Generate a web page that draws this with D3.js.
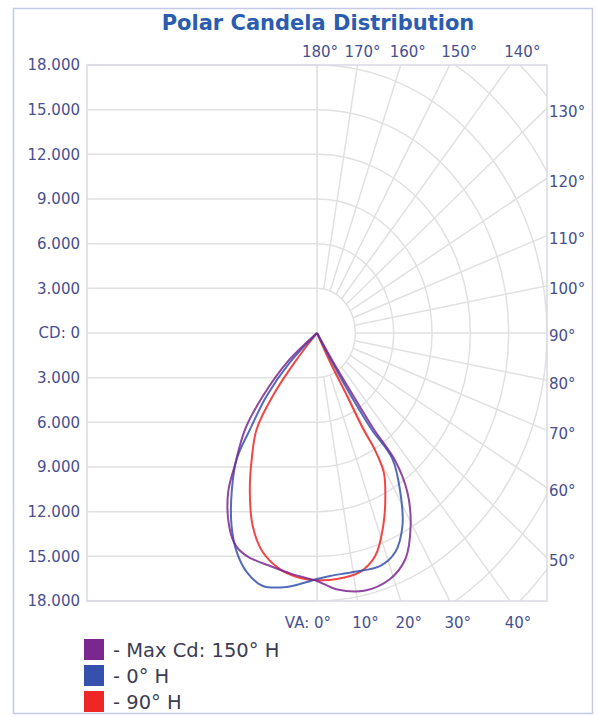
<!DOCTYPE html>
<html>
<head>
<meta charset="utf-8">
<script src="https://cdn.jsdelivr.net/npm/d3@7"></script>
<style>
  body { margin: 0; background: #fff; }
  text { font-family: "DejaVu Sans", Verdana, sans-serif; }
</style>
</head>
<body>
<svg id="chart" width="598" height="717"></svg>
<script>
// candela ticks (upper half is mirrored, labels show the absolute value)
const cdTicks = [18000, 15000, 12000, 9000, 6000, 3000, 0, -3000, -6000, -9000, -12000, -15000, -18000];
const ringValues = [3000, 6000, 9000, 12000, 15000, 18000, 21000, 24000, 27000];
const spokeAngles = d3.range(0, 190, 10);
const topAngles = [180, 170, 160, 150, 140];
const sideAngles = [130, 120, 110, 100, 90, 80, 70, 60, 50];
const bottomAngles = [0, 10, 20, 30, 40];

// traced curves: vertical angle from nadir (negative = left half) and candela
const maxCdAngles = [-50, -50, -45, -41, -36, -33, -28, -24, -20, -13, -7, 0, 5, 12, 19, 24.5, 29.5, 33.5, 35.5, 34.5, 34, 33, 33];
const maxCdValues = [0, 3060, 5990, 8580, 10910, 12770, 14660, 15630, 15960, 16080, 16300, 16660, 17270, 17700, 17490, 16680, 14880, 12810, 10560, 7800, 5100, 2300, 0];

const h0Angles = [-47, -47, -43, -39, -36.6, -32, -27.3, -23.1, -18.9, -14, -7.9, -2.7, 0, 3.6, 10, 17.6, 22.6, 27.3, 31.4, 34.9, 33.4, 32.3, 31.2, 31];
const h0Values = [0, 2880, 5780, 8330, 10540, 12600, 14580, 16000, 16970, 17510, 17220, 16740, 16520, 16350, 16300, 16410, 15940, 14580, 12510, 10310, 7720, 5000, 2280, 0];

const h90Angles = [-42, -41.6, -39.3, -36.2, -31.1, -26.2, -21.2, -16.1, -10.4, -5.5, 0, 5.4, 11.9, 16.9, 21.8, 26.6, 29.2, 30.0, 29.3, 29.1, 27.7, 27];
const h90Values = [0, 2600, 5470, 7990, 9890, 11910, 13910, 15310, 16120, 16460, 16600, 16600, 16400, 15660, 13960, 11940, 10700, 9000, 7390, 4840, 2200, 0];

const seriesNames = ["- Max Cd: 150\u00b0 H", "- 0\u00b0 H", "- 90\u00b0 H"];
const seriesColors = ["#7b2790", "#3551ad", "#ee2626"];

const series = [
  { name: seriesNames[0], color: seriesColors[0], pts: d3.zip(maxCdAngles, maxCdValues) },
  { name: seriesNames[1], color: seriesColors[1], pts: d3.zip(h0Angles, h0Values) },
  { name: seriesNames[2], color: seriesColors[2], pts: d3.zip(h90Angles, h90Values) }
];

const svg = d3.select("#chart");
const labelColor = "#47508e";
const gridColor = "#e1e1e1";

const x = d3.scaleLinear().domain([-18000, 18000]).range([87, 547]);
const y = d3.scaleLinear().domain([-18000, 18000]).range([601, 65]);
const rad = a => a * Math.PI / 180;
// angle measured from straight down, positive towards the right
const px = (a, r) => x(r * Math.sin(rad(a)));
const py = (a, r) => y(-r * Math.cos(rad(a)));

const locale = d3.formatLocale({ decimal: ",", thousands: ".", grouping: [3], currency: ["", ""] });
const fmt = locale.format(",");

// outer frame
svg.append("rect")
  .attr("x", 13.5).attr("y", 8.5)
  .attr("width", 579).attr("height", 705)
  .attr("fill", "#fff")
  .attr("stroke", "#c3cae6")
  .attr("stroke-width", 1.5);

// title
svg.append("text")
  .attr("x", 318).attr("y", 30)
  .attr("text-anchor", "middle")
  .attr("font-size", 21).attr("font-weight", "bold")
  .attr("fill", "#2a5cb0")
  .text("Polar Candela Distribution");

let defs = svg.append("defs");
defs.append("clipPath").attr("id", "plotClip")
  .append("rect")
  .attr("x", x(-18000)).attr("y", y(18000))
  .attr("width", x(18000) - x(-18000)).attr("height", y(-18000) - y(18000));
defs.append("clipPath").attr("id", "rightClip")
  .append("rect")
  .attr("x", x(0)).attr("y", y(18000))
  .attr("width", x(18000) - x(0)).attr("height", y(-18000) - y(18000));

let grid = svg.append("g")
  .attr("fill", "none")
  .attr("stroke", gridColor)
  .attr("stroke-width", 1.5);

// horizontal candela lines on the left half
grid.selectAll(".hline")
  .data(cdTicks)
  .join("line")
  .attr("class", "hline")
  .attr("x1", x(-18000)).attr("x2", x(0))
  .attr("y1", d => y(d)).attr("y2", d => y(d));

grid.append("line")
  .attr("x1", x(0)).attr("x2", x(0))
  .attr("y1", y(18000)).attr("y2", y(-18000));

// rings and spokes on the right half
let polarGrid = grid.append("g").attr("clip-path", "url(#rightClip)");
polarGrid.selectAll("ellipse")
  .data(ringValues)
  .join("ellipse")
  .attr("cx", x(0)).attr("cy", y(0))
  .attr("rx", d => x(d) - x(0))
  .attr("ry", d => y(0) - y(d));

polarGrid.selectAll(".spoke")
  .data(spokeAngles)
  .join("line")
  .attr("class", "spoke")
  .attr("x1", d => px(d, 3000)).attr("y1", d => py(d, 3000))
  .attr("x2", d => px(d, 40000)).attr("y2", d => py(d, 40000));

// plot border
svg.append("rect")
  .attr("x", x(-18000)).attr("y", y(18000))
  .attr("width", x(18000) - x(-18000)).attr("height", y(-18000) - y(18000))
  .attr("fill", "none")
  .attr("stroke", "#d9d9e3")
  .attr("stroke-width", 1.5);

// candela axis labels
svg.append("g").selectAll("text")
  .data(cdTicks)
  .join("text")
  .attr("x", 80)
  .attr("y", d => y(d))
  .attr("dy", "0.36em")
  .attr("text-anchor", "end")
  .attr("font-size", 15)
  .attr("fill", labelColor)
  .text(d => d === 0 ? "CD: 0" : fmt(Math.abs(d)));

// angle labels: top edge, right edge, bottom edge
let angleLabels = svg.append("g")
  .attr("font-size", 15)
  .attr("fill", labelColor);

// top labels sit where the spoke would reach y = 52
let aspect = (x(1) - x(0)) / (y(0) - y(1));
angleLabels.selectAll(".top")
  .data(topAngles)
  .join("text")
  .attr("class", "top")
  .attr("x", d => x(0) + (y(0) - 52) * Math.tan(rad(180 - d)) * aspect + 3)
  .attr("y", 57)
  .attr("text-anchor", "middle")
  .text(d => d + "\u00b0");

angleLabels.selectAll(".side")
  .data(sideAngles)
  .join("text")
  .attr("class", "side")
  .attr("x", 549)
  .attr("y", d => y(-18000 * Math.cos(rad(d)) / Math.sin(rad(d))) + 3)
  .attr("dy", "0.36em")
  .text(d => d + "\u00b0");

angleLabels.selectAll(".bottom")
  .data(bottomAngles)
  .join("text")
  .attr("class", "bottom")
  .attr("x", d => d === 0 ? x(0) + 14 : x(18000 * Math.tan(rad(d))) + 8)
  .attr("y", 628)
  .attr("text-anchor", d => d === 0 ? "end" : "middle")
  .text(d => (d === 0 ? "VA: " : "") + d + "\u00b0");

// candela curves
let line = d3.line()
  .x(d => px(d[0], d[1]))
  .y(d => py(d[0], d[1]))
  .curve(d3.curveCatmullRom.alpha(0.5));

svg.append("g")
  .attr("clip-path", "url(#plotClip)")
  .selectAll("path")
  .data(series.slice().reverse())
  .join("path")
  .attr("d", d => line(d.pts))
  .attr("fill", "none")
  .attr("stroke", d => d.color)
  .attr("stroke-width", 2)
  .attr("stroke-opacity", 0.85);

// legend
let legend = svg.append("g").selectAll("g")
  .data(series)
  .join("g")
  .attr("transform", (d, i) => "translate(84," + (639 + i * 26) + ")");

legend.append("rect")
  .attr("width", 20).attr("height", 21)
  .attr("fill", d => d.color);

legend.append("text")
  .attr("x", 29).attr("y", 10.5)
  .attr("dy", "0.36em")
  .attr("font-size", 19.5)
  .attr("fill", "#3b3d52")
  .text(d => d.name);
</script>
</body>
</html>
